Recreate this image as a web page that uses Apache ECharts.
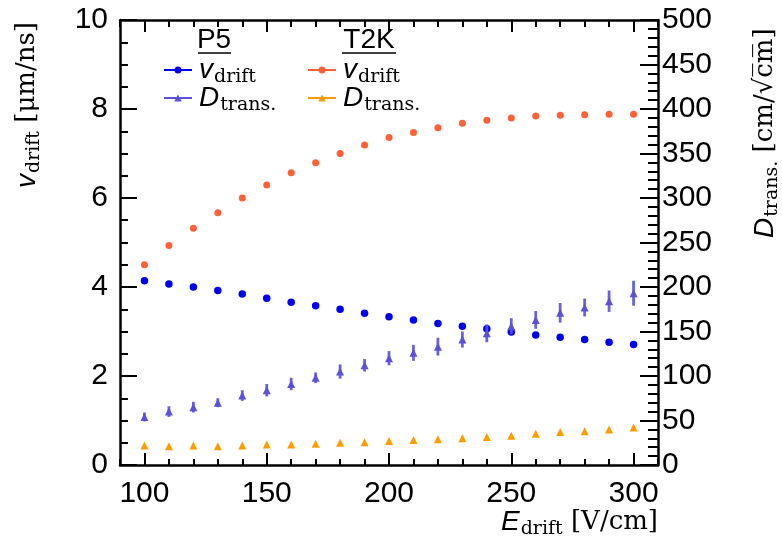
<!DOCTYPE html>
<html>
<head>
<meta charset="utf-8">
<script src="https://cdn.jsdelivr.net/npm/echarts@6.0.0/dist/echarts.min.js"></script>
<style>
html, body { margin: 0; padding: 0; background: #fff; }
#chart { width: 782px; height: 543px; }
</style>
</head>
<body>
<div id="chart"></div>
<script>
// drift field [V/cm]
let eDrift = [100, 110, 120, 130, 140, 150, 160, 170, 180, 190, 200, 210, 220, 230, 240, 250, 260, 270, 280, 290, 300];

// drift velocity [um/ns] (left axis)
let p5Vdrift = [4.14, 4.07, 4.00, 3.92, 3.84, 3.75, 3.66, 3.58, 3.50, 3.41, 3.33, 3.26, 3.18, 3.12, 3.06, 2.99, 2.92, 2.87, 2.82, 2.76, 2.71];
let t2kVdrift = [4.50, 4.93, 5.32, 5.67, 6.00, 6.29, 6.57, 6.79, 7.00, 7.19, 7.36, 7.47, 7.58, 7.68, 7.75, 7.80, 7.84, 7.86, 7.87, 7.88, 7.88];

// transverse diffusion [cm/sqrt(cm)] (right axis)
let p5Dtrans = [54, 60, 65, 70, 78, 84, 91, 98, 105, 112, 120, 126, 133, 141, 148, 156, 163, 171, 177, 184, 193];
let p5DtransErr = [5, 6, 6, 5, 6, 7, 7, 6, 8, 7, 8, 9, 10, 9, 10, 9, 10, 11, 10, 12, 14];
let t2kDtrans = [22, 21, 22, 21, 22, 23, 23, 24, 25, 25.5, 27, 28, 29, 30, 31.5, 33, 35, 37, 38, 40, 42];

// tick values
let xMajorTicks = [100, 150, 200, 250, 300];
let xMinorTicks = [90, 100, 110, 120, 130, 140, 150, 160, 170, 180, 190, 200, 210, 220, 230, 240, 250, 260, 270, 280, 290, 300, 310];

let SANS = 'Liberation Sans';
let SERIF = 'DejaVu Serif';
let COL_P5_V = '#0000f0';
let COL_P5_D = '#5a52d8';
let COL_T2K_V = '#ff6038';
let COL_T2K_D = '#ff9d00';

let circleIcon = 'path://M0,9.1H28V10.9H0Z M14,6.5A3.5,3.5 0 1 1 14,13.5A3.5,3.5 0 1 1 14,6.5Z';
let triIcon = 'path://M0,9.1H28V10.9H0Z M14,6.5L17.8,13.5H10.2Z';

let richText = {
    it: { fontFamily: SANS, fontStyle: 'italic', fontSize: 28, color: '#000' },
    sub: { fontFamily: SERIF, fontSize: 19, color: '#000', padding: [14, 0, 0, 1] },
    sp: { fontFamily: SERIF, fontSize: 26, color: '#000' }
};

function legendLabel(name) {
    if (name.indexOf('vdrift') >= 0) {
        return '{it|v}{sub|drift}';
    }
    return '{it|D}{sub|trans.}';
}

function makeLegend(name, icon, left, top) {
    return {
        data: [{ name: name, icon: icon }],
        left: left,
        top: top,
        padding: 0,
        itemWidth: 28,
        itemHeight: 7,
        selectedMode: false,
        formatter: legendLabel,
        textStyle: { padding: [0, 0, 0, 2], rich: richText }
    };
}

function xAxisDef(pos, ticks, len, showLine, showLabel) {
    return {
        type: 'value',
        position: pos,
        min: 90,
        max: 310,
        splitLine: { show: false },
        axisLine: { show: showLine, onZero: false, lineStyle: { color: '#000', width: 2.5 } },
        axisTick: { show: true, inside: true, length: len, customValues: ticks, lineStyle: { color: '#000', width: 2 } },
        axisLabel: {
            show: showLabel,
            customValues: xMajorTicks,
            margin: 14,
            color: '#000',
            fontFamily: SANS,
            fontSize: 30
        }
    };
}

let chart = echarts.init(document.getElementById('chart'), null, { renderer: 'canvas' });

let option = {
    backgroundColor: '#fff',
    animation: false,
    grid: { left: 120, right: 124, top: 20, bottom: 78, outerBoundsMode: 'none' },
    legend: [
        makeLegend('P5 vdrift', circleIcon, 164, 56),
        makeLegend('P5 Dtrans', triIcon, 164, 84),
        makeLegend('T2K vdrift', circleIcon, 308, 56),
        makeLegend('T2K Dtrans', triIcon, 308, 84)
    ],
    xAxis: [
        xAxisDef('bottom', xMajorTicks, 12, true, true),
        xAxisDef('bottom', xMinorTicks, 6, false, false),
        xAxisDef('top', xMajorTicks, 12, true, false),
        xAxisDef('top', xMinorTicks, 7, false, false)
    ],
    yAxis: [
        {
            type: 'value',
            position: 'left',
            min: 0,
            max: 10,
            interval: 2,
            splitLine: { show: false },
            axisLine: { show: true, onZero: false, lineStyle: { color: '#000', width: 2.5 } },
            axisTick: { inside: true, length: 17, lineStyle: { color: '#000', width: 2 } },
            minorTick: { show: true, splitNumber: 4, length: 8, lineStyle: { color: '#000', width: 2 } },
            axisLabel: { margin: 12, color: '#000', fontFamily: SANS, fontSize: 30 }
        },
        {
            type: 'value',
            position: 'right',
            min: 0,
            max: 500,
            interval: 50,
            splitLine: { show: false },
            axisLine: { show: true, onZero: false, lineStyle: { color: '#000', width: 2.5 } },
            axisTick: { inside: true, length: 18, lineStyle: { color: '#000', width: 2 } },
            minorTick: { show: true, splitNumber: 5, length: 10, lineStyle: { color: '#000', width: 2 } },
            axisLabel: { margin: 4, color: '#000', fontFamily: SANS, fontSize: 30 }
        }
    ],
    graphic: [
        // legend column headers (fraction style)
        { type: 'text', x: 214, y: 40, style: { text: 'P5', font: '28px "Liberation Sans"', fill: '#000', align: 'center', verticalAlign: 'middle', textAlign: 'center', textVerticalAlign: 'middle' } },
        { type: 'line', shape: { x1: 198, y1: 53, x2: 231, y2: 53 }, style: { stroke: '#000', lineWidth: 1.5 } },
        { type: 'text', x: 369, y: 40, style: { text: 'T2K', font: '28px "Liberation Sans"', fill: '#000', align: 'center', verticalAlign: 'middle', textAlign: 'center', textVerticalAlign: 'middle' } },
        { type: 'line', shape: { x1: 342, y1: 53, x2: 396, y2: 53 }, style: { stroke: '#000', lineWidth: 1.5 } },
        // axis titles
        {
            type: 'text', x: 27, y: 188, rotation: Math.PI / 2,
            style: {
                text: '{it|v}{sub|drift}{sp| [μm/ns]}', rich: richText,
                align: 'left', verticalAlign: 'middle', textAlign: 'left', textVerticalAlign: 'middle'
            }
        },
        {
            type: 'text', x: 765, y: 238, rotation: Math.PI / 2,
            style: {
                text: '{it|D}{sub|trans.}{sp| [cm/√c\u0305m\u0305]}', rich: richText,
                align: 'left', verticalAlign: 'middle', textAlign: 'left', textVerticalAlign: 'middle'
            }
        },
        {
            type: 'text', x: 658, y: 522,
            style: {
                text: '{it|E}{sub|drift}{sp| [V/cm]}', rich: richText,
                align: 'right', verticalAlign: 'middle', textAlign: 'right', textVerticalAlign: 'middle'
            }
        }
    ],
    series: [
        {
            name: 'P5 vdrift',
            type: 'scatter',
            yAxisIndex: 0,
            symbol: 'circle',
            symbolSize: 7.5,
            itemStyle: { color: COL_P5_V, opacity: 1 },
            data: eDrift.map((e, i) => [e, p5Vdrift[i]]),
            z: 3
        },
        {
            name: 'P5 Dtrans err',
            type: 'custom',
            yAxisIndex: 1,
            data: eDrift.map((e, i) => [e, p5Dtrans[i], p5DtransErr[i]]),
            renderItem: function (params, api) {
                let x = api.value(0);
                let y = api.value(1);
                let err = api.value(2);
                let hi = api.coord([x, y + err]);
                let lo = api.coord([x, y - err]);
                return {
                    type: 'line',
                    shape: { x1: hi[0], y1: hi[1], x2: lo[0], y2: lo[1] },
                    style: { stroke: COL_P5_D, lineWidth: 2.8, opacity: 0.9 }
                };
            },
            z: 4
        },
        {
            name: 'P5 Dtrans',
            type: 'scatter',
            yAxisIndex: 1,
            symbol: 'triangle',
            symbolSize: 8,
            itemStyle: { color: COL_P5_D, opacity: 1 },
            data: eDrift.map((e, i) => [e, p5Dtrans[i]]),
            z: 5
        },
        {
            name: 'T2K vdrift',
            type: 'scatter',
            yAxisIndex: 0,
            symbol: 'circle',
            symbolSize: 7,
            itemStyle: { color: COL_T2K_V, opacity: 1 },
            data: eDrift.map((e, i) => [e, t2kVdrift[i]]),
            z: 3
        },
        {
            name: 'T2K Dtrans',
            type: 'scatter',
            yAxisIndex: 1,
            symbol: 'triangle',
            symbolSize: 8,
            itemStyle: { color: COL_T2K_D, opacity: 1 },
            data: eDrift.map((e, i) => [e, t2kDtrans[i]]),
            z: 3
        }
    ]
};

chart.setOption(option);
</script>
</body>
</html>
